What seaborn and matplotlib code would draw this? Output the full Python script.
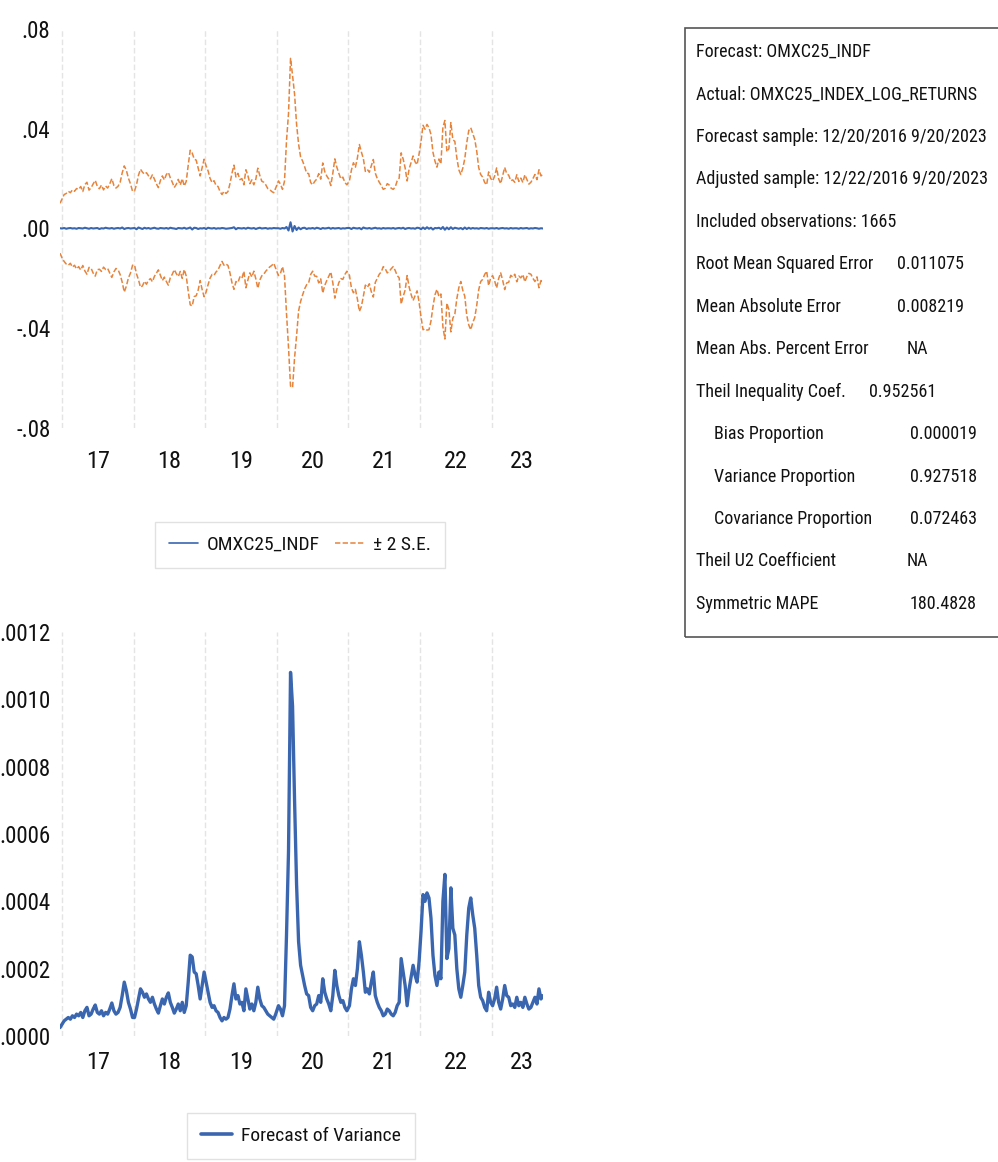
import os
import numpy as np
import pandas as pd
import matplotlib
matplotlib.use("Agg")
import matplotlib.pyplot as plt
import matplotlib.dates as mdates
from matplotlib.lines import Line2D
from matplotlib.patches import Rectangle
from matplotlib import font_manager
from matplotlib.font_manager import FontProperties
import seaborn as sns

sns.set_theme(style="white")

# pick a narrow / condensed sans font if one is installed
_pref = ["liberationsansnarrow-regular", "robotocondensed-regular", "notosans-condensed",
         "dejavusanscondensed.ttf", "opensans_condensed-regular", "opensans-condensed"]
_all = [f.fname for f in font_manager.fontManager.ttflist]
_cand = [p for p in _all if ("narrow" in os.path.basename(p).lower()
                              or "condensed" in os.path.basename(p).lower())]
FONT_PATH = None
for key in _pref:
    hits = [p for p in _cand if key in os.path.basename(p).lower()]
    if hits:
        FONT_PATH = sorted(hits, key=len)[0]
        break
plt.rcParams["font.family"] = ["DejaVu Sans"]


def fp(size):
    if FONT_PATH:
        return FontProperties(fname=FONT_PATH, size=size)
    return FontProperties(family="DejaVu Sans", size=size * 0.8)


# ---------------- data (variance and mean forecast in units of 1e-4) ----------------
var_2017 = [0.25, 0.35, 0.45, 0.5, 0.55, 0.5, 0.6, 0.55, 0.65, 0.6, 0.7, 0.55,
            0.75, 0.85, 0.6, 0.65, 0.8, 0.92, 0.7, 0.65, 0.75, 0.6, 0.7, 0.65,
            0.8, 0.98, 0.75, 0.65, 0.7, 0.85, 1.2, 1.6, 1.35, 1.0, 0.8, 0.55]
var_2018 = [0.55, 0.8, 1.1, 1.4, 1.3, 1.15, 1.25, 1.1, 1.0, 1.15, 0.95, 0.8,
            0.68, 0.9, 1.1, 0.95, 1.15, 1.28, 1.0, 0.85, 0.68, 0.8, 0.95, 0.75,
            1.0, 0.7, 0.9, 1.6, 2.4, 2.35, 1.9, 1.85, 1.5, 1.1, 1.5, 1.9]
var_2019 = [1.6, 1.3, 1.0, 0.85, 0.9, 0.75, 0.7, 0.55, 0.45, 0.55, 0.5, 0.55,
            0.8, 1.2, 1.55, 1.1, 1.2, 0.95, 1.0, 0.75, 1.4, 1.1, 0.8, 0.95,
            0.75, 1.0, 1.45, 1.1, 0.9, 0.85, 0.75, 0.65, 0.6, 0.55, 0.5, 0.65]
var_2020 = [0.9, 0.8, 0.6, 0.9, 3.0, 5.5, 10.8, 9.8, 7.0, 4.5, 2.8, 2.1,
            1.8, 1.5, 1.25, 1.2, 0.85, 0.75, 0.9, 0.95, 1.2, 1.0, 1.7, 1.3,
            1.1, 0.95, 0.75, 1.2, 1.95, 1.5, 1.2, 1.0, 1.05, 0.85, 0.75]
var_2021 = [0.9, 1.4, 1.7, 1.5, 2.0, 2.8, 2.4, 1.9, 1.3, 1.4, 1.25, 1.6,
            1.9, 1.2, 1.0, 0.85, 0.75, 0.6, 0.65, 0.8, 0.75, 0.65, 0.6, 0.7,
            0.9, 1.0, 2.3, 1.9, 1.5, 0.9, 1.4, 1.75, 2.1, 1.8, 1.6, 2.2]
var_2022 = [3.1, 4.2, 4.0, 4.25, 4.1, 3.5, 2.4, 1.8, 1.5, 1.9, 1.7, 4.0,
            4.8, 2.3, 2.6, 4.4, 3.2, 3.0, 2.0, 1.4, 1.15, 1.5, 1.9, 3.0,
            3.8, 4.1, 3.6, 3.2, 2.4, 1.5, 1.15, 1.05, 0.85, 0.75, 1.3, 1.0]
var_2023 = [0.9, 1.1, 1.45, 1.0, 0.8, 1.1, 1.5, 1.2, 1.15, 0.9, 0.95, 0.85,
            1.15, 0.9, 1.0, 0.85, 1.15, 0.95, 0.8, 0.85, 1.0, 1.15, 0.95, 1.4,
            1.1, 1.2]

mean_2017 = [1, 0, 2, -1, 1, 2, 0, 1, -1, 2, 1, 0, 3, 1, -1, 2, 0, 1,
             2, -2, 1, 0, 3, 1, 0, 2, -1, 1, 2, 0, 4, -2, 1, 2, 0, 1]
mean_2018 = [2, -3, 4, 1, -2, 3, 0, 2, -1, 1, 3, 0, -1, 2, 1, 0, 2, -1,
             3, 1, 0, -2, 2, 1, 0, 3, -1, 1, 4, -4, 3, 2, -2, 1, 0, 2]
mean_2019 = [-2, 3, 1, 0, 2, -1, 1, 0, 2, 1, -1, 0, 1, 2, 5, -3, 2, 1,
             0, 2, -1, 3, 1, 0, 2, -2, 1, 3, 0, 1, 2, -1, 1, 0, 2, 1]
mean_2020 = [1, -1, 2, 0, 6, -8, 25, -12, 10, -6, 4, -3, 2, 3, -2, 1, 0, 2,
             -1, 3, 1, -2, 2, 0, 1, 3, -1, 2, 0, 1, 2, -1, 1, 0, 2]
mean_2021 = [2, -2, 3, 1, 0, 2, -3, 4, 1, 0, 2, -1, 1, 3, 0, 1, -1, 2,
             0, 1, 1, 0, 2, -1, 1, 2, 0, 3, -2, 1, 2, 0, 1, -1, 3, 2]
mean_2022 = [-3, 4, -2, 5, -1, 3, -4, 2, 1, 3, -2, 6, -5, 4, -3, 5, -2, 3,
             1, -1, 2, -3, 4, -2, 3, -1, 2, 0, 1, -1, 2, 1, 0, 2, -1, 1]
mean_2023 = [1, 0, 2, -1, 1, 2, 0, 1, -1, 2, 0, 1, 1, -1, 2, 0, 1, 2,
             -1, 1, 0, 2, 1, -1, 1, 0]

segments = [
    ("2016-12-22", "2017-12-27", var_2017, mean_2017),
    ("2018-01-06", "2018-12-27", var_2018, mean_2018),
    ("2019-01-06", "2019-12-27", var_2019, mean_2019),
    ("2020-01-10", "2020-12-24", var_2020, mean_2020),
    ("2021-01-06", "2021-12-27", var_2021, mean_2021),
    ("2022-01-06", "2022-12-27", var_2022, mean_2022),
    ("2023-01-06", "2023-09-20", var_2023, mean_2023),
]

year_labels = ["17", "18", "19", "20", "21", "22", "23"]
label_dates = ["2017-07-02", "2018-07-02", "2019-07-02", "2020-07-02",
               "2021-07-02", "2022-07-02", "2023-06-03"]
top_yticks = [-0.08, -0.04, 0.0, 0.04, 0.08]
top_ylabels = ["-.08", "-.04", ".00", ".04", ".08"]
bot_yticks = [0.0, 0.0002, 0.0004, 0.0006, 0.0008, 0.0010, 0.0012]
bot_ylabels = [".0000", ".0002", ".0004", ".0006", ".0008", ".0010", ".0012"]

stat_labels = ["Forecast: OMXC25_INDF", "Actual: OMXC25_INDEX_LOG_RETURNS",
               "Forecast sample: 12/20/2016 9/20/2023",
               "Adjusted sample: 12/22/2016 9/20/2023",
               "Included observations: 1665", "Root Mean Squared Error",
               "Mean Absolute Error", "Mean Abs. Percent Error",
               "Theil Inequality Coef.", "Bias Proportion", "Variance Proportion",
               "Covariance Proportion", "Theil U2 Coefficient", "Symmetric MAPE"]
stat_values = ["", "", "", "", "", "0.011075", "0.008219", "NA", "0.952561",
               "0.000019", "0.927518", "0.072463", "NA", "180.4828"]
stat_indent = [False] * 9 + [True, True, True, False, False]
stat_value_x = [0, 0, 0, 0, 0, 897, 897, 907, 869, 910, 910, 910, 907, 910]

# ---------------- build frame ----------------
frames = []
for start, end, v, m in segments:
    d = pd.date_range(start, end, periods=len(v))
    frames.append(pd.DataFrame({"date": d, "var": np.array(v) * 1e-4,
                                "mean": np.array(m) * 1e-4}))
df = pd.concat(frames, ignore_index=True)
df["upper"] = df["mean"] + 2 * np.sqrt(df["var"])
df["lower"] = df["mean"] - 2 * np.sqrt(df["var"])

BLUE = "#3A66B0"
ORANGE = "#E6843C"
GRID = "#E4E4E4"
TXT = "#111111"
W, H = 998, 1162

fig = plt.figure(figsize=(W / 100, H / 100), dpi=100)
ax1 = fig.add_axes([60 / W, 1 - 428 / H, 483 / W, 399 / H])
ax2 = fig.add_axes([60 / W, 1 - 1036 / H, 483 / W, 404 / H])

sns.lineplot(data=df, x="date", y="upper", ax=ax1, color=ORANGE, linewidth=1.1,
             linestyle=(0, (3.5, 1.5)), estimator=None)
sns.lineplot(data=df, x="date", y="lower", ax=ax1, color=ORANGE, linewidth=1.1,
             linestyle=(0, (3.5, 1.5)), estimator=None)
sns.lineplot(data=df, x="date", y="mean", ax=ax1, color=BLUE, linewidth=1.5,
             estimator=None)
sns.lineplot(data=df, x="date", y="var", ax=ax2, color=BLUE, linewidth=2.4,
             estimator=None)

XTICK_SIZE = 17.5
YTICK_SIZE = 16.5
xmin, xmax = pd.Timestamp("2016-12-22"), pd.Timestamp("2023-09-20")
for ax, yt, yl, pad in [(ax1, top_yticks, top_ylabels, 16), (ax2, bot_yticks, bot_ylabels, 11)]:
    ax.set_xlim(xmin, xmax)
    ax.set_ylim(yt[0], yt[-1])
    ax.set_yticks(yt)
    ax.set_yticklabels(yl)
    ax.xaxis.set_major_locator(mdates.YearLocator())
    ax.xaxis.set_major_formatter(plt.NullFormatter())
    ax.set_xticks(pd.to_datetime(label_dates), minor=True)
    ax.set_xticklabels(year_labels, minor=True)
    ax.grid(False)
    ax.grid(axis="x", which="major", color=GRID, linestyle=(0, (4, 2)), linewidth=1.0)
    ax.tick_params(axis="both", which="both", length=0, colors=TXT)
    ax.tick_params(axis="x", which="minor", pad=pad)
    ax.tick_params(axis="y", pad=7)
    for lab in ax.get_yticklabels():
        lab.set_fontproperties(fp(YTICK_SIZE))
    for lab in ax.get_xticklabels(minor=True):
        lab.set_fontproperties(fp(XTICK_SIZE))
    ax.set_xlabel("")
    ax.set_ylabel("")
    for s in ax.spines.values():
        s.set_visible(False)
    ax.set_facecolor("white")

# legends
LEG_SIZE = 14
h1 = [Line2D([], [], color=BLUE, linewidth=1.2),
      Line2D([], [], color=ORANGE, linewidth=1.1, linestyle=(0, (3.5, 1.5)))]
leg1 = fig.legend(h1, ["OMXC25_INDF", "± 2 S.E."], loc="center",
                  bbox_to_anchor=(300 / W, 1 - 545 / H), ncol=2, prop=fp(LEG_SIZE),
                  frameon=True, fancybox=False, edgecolor="#DADADA",
                  handlelength=1.5, handletextpad=0.45, columnspacing=0.8,
                  borderpad=0.72, borderaxespad=0)
leg1.get_frame().set_linewidth(1.0)
for t in leg1.get_texts():
    t.set_color(TXT)
h2 = [Line2D([], [], color=BLUE, linewidth=2.6)]
leg2 = fig.legend(h2, ["Forecast of Variance"], loc="center",
                  bbox_to_anchor=(301 / W, 1 - 1136 / H), ncol=1, prop=fp(LEG_SIZE),
                  frameon=True, fancybox=False, edgecolor="#DADADA",
                  handlelength=1.6, handletextpad=0.5, borderpad=0.72,
                  borderaxespad=0)
leg2.get_frame().set_linewidth(1.0)
for t in leg2.get_texts():
    t.set_color(TXT)

# statistics box
BOX_SIZE = 13
fig.patches.append(Rectangle((685 / W, 1 - 637 / H), (1010 - 685) / W, (637 - 28) / H,
                             transform=fig.transFigure, fill=False,
                             edgecolor="#555555", linewidth=1.2))
for i, (lab, val) in enumerate(zip(stat_labels, stat_values)):
    yc = 1 - (52 + 42.45 * i) / H
    x0 = 714 if stat_indent[i] else 696
    fig.text(x0 / W, yc, lab, fontproperties=fp(BOX_SIZE), va="center", ha="left",
             color=TXT)
    if val:
        fig.text(stat_value_x[i] / W, yc, val, fontproperties=fp(BOX_SIZE), va="center",
                 ha="left", color=TXT)

fig.savefig("out.png", dpi=100, facecolor="white")
